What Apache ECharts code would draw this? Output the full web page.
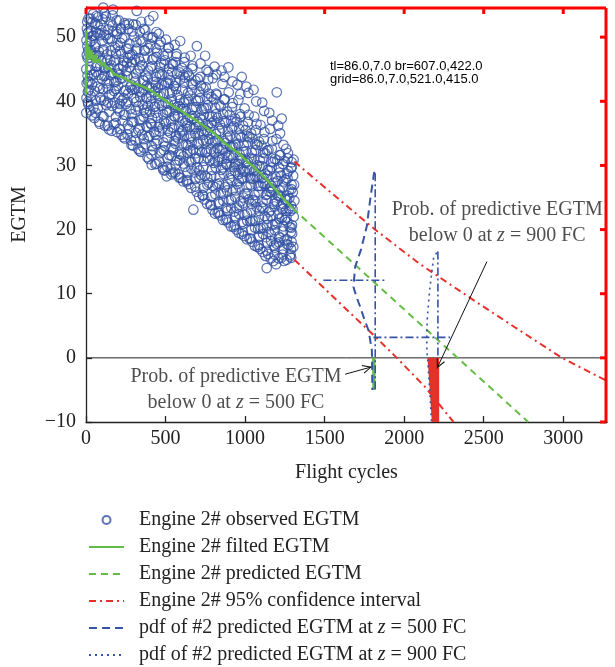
<!DOCTYPE html>
<html><head><meta charset="utf-8">
<script src="https://cdn.jsdelivr.net/npm/echarts@6/dist/echarts.min.js"></script>
<style>html,body{margin:0;padding:0;background:#fff;overflow:hidden}#c{width:615px;height:667px}</style>
</head><body><div id="c"></div>
<script>
const xTicks = [0,500,1000,1500,2000,2500,3000];
const yTicks = [-10,0,10,20,30,40,50];
const legendNames = ['Engine 2# observed EGTM','Engine 2# filted EGTM','Engine 2# predicted EGTM','Engine 2# 95% confidence interval','pdf of #2 predicted EGTM at z = 500 FC','pdf of #2 predicted EGTM at z = 900 FC'];
const observedA = [
[2,38.2],[3,40.5],[4,42.8],[2,45],[5,47.2],[3,49.5],[6,51.3],[8,52.4],[10,44],[12,41.5],[9,48.6],[15,50.8],[14,39.6],
[22,43],[25,46.8],[28,52.9],[24,49.2],[30,40.8],[27,38.6],[32,51],[26,44.9],[31,47.9],
[45,53.6],[48,50.2],[52,47.1],[50,44.2],[55,41.6],[47,39],[53,37.4],[58,52.1],[56,48.5],
[70,45.4],[72,42.3],[78,50.6],[76,53.1],[80,47.8],[74,38.9],[82,36.8],[79,44.1],[73,51.9],
[95,40.2],[98,46.3],[102,49.4],[105,52.8],[108,54.6],[100,43.5],[104,37.7],[110,48.1],[97,51.1],[107,41.9],
[120,36.2],[122,45.1],[127,50.3],[125,53.2],[130,42.8],[128,39.4],[133,47.3],[121,44],
[145,35.6],[148,41],[152,46.4],[150,49.8],[155,52.4],[158,44.1],[147,38.4],[156,47.9],
[170,54.3],[172,50.9],[175,46.2],[178,43],[180,39.8],[174,36.4],[182,48.4],[177,41.6],
[195,35.2],[198,38.9],[202,42.4],[205,45.1],[200,48.7],[207,52.6],[196,50.5],[204,40.6],[199,44.3],
[220,51.2],[222,47.4],[227,43.6],[225,40.1],[230,37],[223,34.8],[232,45.6],[228,49.8],
[245,34.2],[248,37.9],[250,41.8],[253,44.7],[255,48.2],[247,51.9],[258,46],[252,39.6],
[270,52.1],[273,49],[275,45.3],[278,42.2],[280,38.8],[272,35.7],[283,33.9],[277,47.2],
[295,33.1],[298,36.8],[302,40.5],[300,43.7],[305,46.5],[303,50.1],[297,52],[308,41.9],
[319,54.1],[322,48.2],[325,44.8],[327,39.2],[330,35.5],[324,42.1],[332,46.7],[328,32.6],
[345,32.1],[348,37.2],[350,41.4],[353,45.6],[355,49.3],[347,52.4],[358,43.3],[352,34.8],[356,39.5],
[370,47.9],[372,51.1],[375,44],[378,40.6],[380,36.1],[373,33.3],[382,42.4],[377,38.2],
[395,31],[398,34.6],[402,38.4],[400,42.1],[405,45.3],[403,48.9],[397,52.6],[408,40],[406,36.6],
[423,53.3],[420,50],[425,46.7],[427,43],[430,39.1],[413,30.1],[428,35.2],[432,41.5],[422,32.4],
[445,30.3],[448,33.9],[450,37.4],[453,40.8],[455,44.4],[447,47.6],[458,50.5],[452,42.1],[456,36],
[470,49.3],[472,46],[475,42.6],[478,39.3],[480,35.8],[473,32.2],[482,29.7],[477,44.2],
[495,29.2],[498,33],[502,36.5],[500,39.8],[505,42.9],[507,28.3],[497,46.4],[503,49.6],[508,38.2],
[520,48.4],[522,45.1],[527,41.3],[525,38.4],[530,35.1],[523,31.6],[532,29.5],[528,43.3],
[545,28.9],[548,32.5],[550,35.9],[553,39.4],[555,42.4],[547,45.8],[558,48.8],[552,37.7],[556,33.8],
[570,47.4],[572,44.3],[575,41],[578,37.6],[580,34.2],[573,30.8],[582,28.6],[577,39.2],
[592,49.4],[595,28.1],[598,31.7],[602,35.3],[600,38.8],[605,41.8],[603,45.2],[608,36.9],[606,33.4],
[620,46.8],[622,43.7],[627,40.2],[625,36.6],[630,33.2],[623,29.8],[632,27.5],[628,38.5],
[645,27.1],[648,30.6],[650,34.2],[653,37.5],[655,40.9],[647,44],[658,47.1],[652,36],[656,32.3],
[675,23.1],[670,45.5],[672,42.6],[677,39.1],[680,35.7],[673,32.5],[682,28.9],[678,37.3],
[697,48.6],[695,25.9],[698,29.7],[702,33.4],[700,36.8],[705,40.1],[703,43.5],[708,35],[706,31.1],
[720,45.9],[722,42.4],[727,38.7],[725,35.4],[730,32.1],[723,28.5],[732,25.4],[728,37.1],
[749,47.1],[745,24.7],[748,28.4],[752,32],[750,35.5],[755,38.9],[753,42.2],[758,44.9],[756,33.8],
[770,44.6],[772,41.2],[777,37.6],[775,34.1],[780,30.8],[773,27.3],[782,23.9],[778,35.9],
[795,23.1],[798,26.8],[802,30.4],[800,33.7],[805,36.9],[803,40.3],[797,43.6],[808,45.4],[806,32],
[820,44.2],[822,41],[827,37.4],[825,34],[830,30.6],[823,27.1],[832,24.3],[828,22.6],[826,32.7],
[845,22.2],[848,25.7],[850,29.3],[853,32.5],[855,35.8],[847,39.2],[858,42.7],[852,44.8],[856,31],
[870,43.8],[872,40.3],[877,36.7],[875,33.5],[880,30.2],[873,26.6],[882,23.4],[878,21.5],[876,31.9],
[895,45.3],[895,21.1],[898,24.5],[902,28],[900,31.4],[905,34.6],[903,37.9],[897,41.4],[908,29.8],[906,32.9],
[920,43.1],[922,39.7],[927,36.1],[925,33],[930,29.7],[923,26.2],[932,22.8],[928,20.4],[926,31.2],
[945,20],[948,23.4],[950,27.1],[953,30.2],[955,33.4],[947,36.8],[958,40.2],[952,42.6],[956,28.6],
[979,43.8],[970,41.1],[972,37.6],[977,34.4],[975,31.1],[980,27.9],[973,24.4],[982,21.2],[978,19.3],[976,29.5],
[995,19],[998,22.3],[1002,25.6],[1000,29],[1005,32.2],[1003,35.5],[997,38.9],[1008,42.3],[1006,30.4],
[1020,41.3],[1022,37.9],[1027,34.4],[1025,31.2],[1030,28.1],[1023,24.7],[1032,21.3],[1028,18.6],[1026,29.3],
[1045,18.1],[1048,21.4],[1050,24.6],[1052,27.9],[1055,31],[1047,34.2],[1058,37.6],[1053,41.8],[1056,29.1],
[1070,40],[1072,36.5],[1077,33.2],[1075,30],[1080,26.8],[1073,23.5],[1082,20.1],[1078,17.3],[1076,28.3],
[1095,17],[1098,20.2],[1102,23.6],[1100,26.8],[1105,29.9],[1103,33.1],[1097,36.3],[1108,39.8],[1106,28],
[1120,38.5],[1122,35.2],[1127,31.9],[1125,28.7],[1130,25.4],[1123,22.1],[1132,18.8],[1128,15.9],[1126,27.1],
[1136,14],[1145,16.2],[1148,19.6],[1150,22.7],[1153,25.9],[1155,29.2],[1147,32.4],[1158,35.7],[1152,38.2],[1156,26.5],
[1170,37],[1172,33.8],[1177,30.5],[1175,27.3],[1180,24],[1173,20.8],[1182,17.5],[1178,15.1],[1176,26.2],
[1199,41.4],[1195,14.6],[1198,17.8],[1202,21],[1200,24.3],[1205,27.6],[1203,30.8],[1197,34.1],[1208,36.2],[1206,25.3],
[1230,37.3],[1220,35],[1222,31.6],[1227,28.4],[1225,25.1],[1232,21.9],[1223,18.7],[1228,15.6],[1226,23.6],
[1241,33.2],[1245,15.1],[1248,18.3],[1250,21.5],[1252,24.7],[1255,27.8],[1247,30.7],[1258,32.6],[1256,22.9],
[1270,31.9],[1272,29.1],[1277,26.2],[1275,23.3],[1280,20.4],[1273,17.6],[1282,15.8],[1278,24.9],
[1290,15.6],[1292,18.1],[1295,20.7],[1298,23.2],[1300,25.8],[1302,28.4],[1305,30.9],[1308,27],[1306,22],[1303,17.3],[1296,19.4],[1310,24.5],[1294,29.7]
];
const observedB = [
[12,39.9],[13,43.1],[11,46.7],[14,47.9],[12,50.6],[16,52.9],[18,41.8],
[36,37.8],[38,42.6],[37,44.1],[40,47.3],[35,49.4],[39,50.2],[41,52.4],
[61,38.2],[63,40.1],[62,44.6],[65,45.5],[60,48.9],[64,50.8],[66,53.3],[67,47.2],
[86,36.5],[88,40.6],[87,42],[90,45.5],[85,47.1],[89,50.3],[91,52],
[111,37.6],[113,40.1],[112,43.9],[115,45.2],[110,47.8],[114,50.4],[116,53.7],
[136,36.2],[138,39.8],[137,42],[140,45.3],[135,46.4],[139,49.7],[141,51.2],[142,43.2],
[161,35.4],[163,39.3],[162,41.1],[165,44.4],[160,45.6],[164,49.4],[166,51.8],[167,53.4],
[186,36.6],[188,37.6],[187,41.9],[190,43.1],[185,46.4],[189,47.4],[191,50.9],[192,52.6],
[211,35.7],[213,38.4],[212,39.6],[215,43.5],[210,44.1],[214,47.9],[216,49.1],[217,51.4],
[236,34.4],[238,37.9],[237,40.5],[240,41.6],[235,45.4],[239,46.3],[241,49.9],[242,52.2],
[261,34.8],[263,36.3],[262,39.9],[265,41.2],[260,43.9],[264,46.8],[266,48.2],[267,51.3],
[286,33.2],[288,36.8],[287,38],[290,41.8],[285,42.6],[289,46.1],[291,47.3],[292,50.9],
[311,33.9],[313,35.1],[312,38.7],[315,39.9],[310,43.1],[314,44.3],[316,47.9],[317,49.2],[313,51.9],
[336,32.3],[338,35.8],[337,37.1],[340,40.7],[335,41.5],[339,45.1],[341,46.2],[342,49.6],[338,50.8],
[361,32.8],[363,34.1],[362,37.6],[365,38.7],[360,41.8],[364,43.2],[366,46.8],[367,48],[363,51.3],
[386,31.3],[388,34.4],[387,35.9],[390,39.3],[385,40.4],[389,43.7],[391,44.8],[392,48.3],[388,50.1],
[411,31.7],[413,33],[412,36.4],[415,37.4],[410,40.9],[414,42.1],[416,45.5],[417,46.5],[413,49.9],
[436,30.2],[438,33.4],[437,34.8],[440,38.2],[435,39.2],[439,42.6],[441,43.8],[442,46.9],[438,48.3],[443,50.8],
[461,30.6],[463,31.9],[462,35.3],[465,36.4],[460,39.7],[464,40.9],[466,44.2],[467,45.3],[463,48.8],
[486,29.3],[488,32.4],[487,33.6],[490,36.9],[485,38],[489,41.3],[491,42.5],[492,45.8],[488,47.1],
[511,29.8],[513,31.1],[512,34.3],[515,35.4],[510,38.6],[514,39.7],[516,42.9],[517,44.1],[513,47.4],[518,48.3],
[536,28.6],[538,31.5],[537,32.7],[540,35.9],[535,37],[539,40.3],[541,41.4],[542,44.6],[538,45.8],
[561,28.9],[563,30.1],[562,33.4],[565,34.5],[560,37.6],[564,38.6],[566,41.9],[567,42.9],[563,46.1],[568,47],
[586,28.1],[588,30.8],[587,31.8],[590,35],[585,36],[589,39.2],[591,40.2],[592,43.4],[588,44.5],
[611,27.5],[613,30.3],[612,31.4],[615,34.6],[610,35.6],[614,38.8],[616,39.8],[617,42.9],[613,44.1],[618,46.1],
[636,27.7],[638,28.9],[637,32],[640,33.1],[635,36.2],[639,37.1],[641,40.3],[642,41.3],[638,44.5],
[661,26.5],[663,29.5],[662,30.5],[665,33.6],[660,34.6],[664,37.7],[666,38.7],[667,41.8],[663,42.8],[668,45.1],
[686,26.7],[688,27.9],[687,31],[690,31.9],[685,35],[689,36],[691,39.1],[692,40.1],[688,43.2],
[711,25.1],[713,28.1],[712,29.2],[715,32.3],[710,33.3],[714,36.4],[716,37.4],[717,40.5],[713,41.5],[718,43.8],
[736,25.3],[738,26.5],[737,29.7],[740,30.7],[735,33.9],[739,34.8],[741,37.9],[742,38.9],[738,42],
[761,24],[763,27],[762,28.1],[765,31.2],[760,32.2],[764,35.3],[766,36.3],[767,39.4],[763,40.4],[768,43.4],
[786,23.8],[788,25.1],[787,28.3],[790,29.3],[785,32.5],[789,33.5],[791,36.6],[792,37.6],[788,40.7],
[811,22.5],[813,25.5],[812,26.6],[815,29.7],[810,30.8],[814,33.8],[816,34.9],[817,38],[813,39],[818,41.2],
[836,22.7],[838,24],[837,27.2],[840,28.2],[835,31.3],[839,32.3],[841,35.4],[842,36.4],[838,39.5],
[861,21.5],[863,24.5],[862,25.6],[865,28.7],[860,29.7],[864,32.8],[866,33.8],[867,36.9],[863,38],[868,40.3],
[886,21.7],[888,22.9],[887,26.1],[890,27.1],[885,30.2],[889,31.2],[891,34.3],[892,35.3],[888,38.4],
[911,20.5],[913,23.4],[912,24.6],[915,27.7],[910,28.7],[914,31.7],[916,32.8],[917,35.8],[913,36.9],[918,39.1],
[936,20.7],[938,21.9],[937,25.1],[940,26.1],[935,29.2],[939,30.2],[941,33.2],[942,34.2],[938,37.3],
[961,19.5],[963,22.4],[962,23.6],[965,26.6],[960,27.6],[964,30.7],[966,31.7],[967,34.7],[963,35.7],[968,38],
[986,19.7],[988,20.9],[987,24.1],[990,25],[985,28.1],[989,29.1],[991,32.1],[992,33.1],[988,36.2],
[1011,18.5],[1013,21.4],[1012,22.5],[1015,25.6],[1010,26.6],[1014,29.6],[1016,30.6],[1017,33.6],[1013,34.6],[1018,36.8],
[1036,18.6],[1038,19.9],[1037,23],[1040,24],[1035,27],[1039,28],[1041,31],[1042,32],[1038,35],
[1061,17.5],[1063,20.3],[1062,21.4],[1065,24.4],[1060,25.4],[1064,28.3],[1066,29.4],[1067,32.4],[1063,33.4],[1068,35.5],
[1086,17.6],[1088,18.9],[1087,21.9],[1090,22.9],[1085,25.9],[1089,26.8],[1091,29.8],[1092,30.8],[1088,33.7],
[1111,16.5],[1113,19.3],[1112,20.3],[1115,23.3],[1110,24.3],[1114,27.2],[1116,28.1],[1117,31.1],[1113,32],[1118,34.1],
[1136,16.7],[1138,17.9],[1137,20.7],[1140,21.7],[1135,24.6],[1139,25.5],[1141,28.4],[1142,29.3],[1138,32.3],
[1161,15.5],[1163,18.2],[1162,19.2],[1165,22.1],[1160,23],[1164,25.9],[1166,26.8],[1167,29.7],[1163,30.6],[1168,32.6],
[1186,16.1],[1188,17.2],[1187,19.9],[1190,20.8],[1185,23.6],[1189,24.5],[1191,27.3],[1192,28.2],[1188,31],
[1211,15.5],[1213,18],[1212,18.9],[1215,21.7],[1210,22.5],[1214,25.3],[1216,26.1],[1217,28.9],[1213,29.7],[1218,31.6],
[1236,16.1],[1238,17],[1237,19.7],[1240,20.5],[1235,23.2],[1239,24],[1241,26.7],[1242,27.5],[1238,30.2],
[1261,15.3],[1263,17.7],[1262,18.5],[1265,21.2],[1260,21.9],[1264,24.6],[1266,25.3],[1267,28],[1263,28.7],[1268,31.1],
[1286,16.1],[1288,17],[1287,19.6],[1290,20.3],[1285,22.9],[1289,23.7],[1291,26.3],[1292,27],[1288,29.6],[1293,30.5]
];
const filtered = [[0,41],[2,51],[5,45],[8,49],[12,47],[18,48.5],[25,46.5],[32,48],[40,47],[50,46],[60,47.3],[70,46],[85,46.5],[100,45.5],[115,46],[130,45],[150,45.2],[170,44.3],[200,44],[233,43.7],[270,43.2],[300,42.8],[340,42.5],[382,42],[420,41.5],[445,41],[500,40.1],[549,39.2],[600,38.5],[640,37.8],[675,37.3],[720,36.5],[760,35.8],[801,35.1],[864,33.6],[920,32.6],[969,31.7],[1010,30.7],[1052,29.8],[1095,28.8],[1136,27.8],[1180,26.6],[1220,25.4],[1260,24.3],[1300,23.3]];
const predicted = [[1300,23.3],[2780,-10]];
const ciUpper = [[1310,30.6],[1500,26.6],[1817,20],[2100,14.6],[2436,9],[2700,4.7],[2992,0],[3275,-3.6]];
const ciLower = [[1310,15.3],[1550,9.6],[1797,3.8],[1954,0],[2130,-4.5],[2310,-10]];
const pdf500Curve = [[1812,29],[1800,27],[1786,24.6],[1765,20.5],[1730,17],[1692,14.2],[1681,11.1],[1700,9.5],[1723,8],[1750,6],[1776,4.3],[1797,1.2],[1798,0],[1800,-5]];
const pdf500Base = [[1818,28.8],[1818,-5]];
const pdf500Mean = [[1492,12.1],[1891,12.1]];
const pdf500Tail = [[1798,0],[1820,0],[1820,-5],[1800,-5]];
const pdf900Curve = [[2205,16.4],[2185,15.6],[2174,13.4],[2160,10.5],[2153,8.5],[2145,6],[2142,3.5],[2143,1],[2147,0],[2155,-3],[2163,-6],[2172,-10]];
const pdf900Base = [[2212,16.6],[2212,0]];
const pdf900Mean = [[1807,3.2],[2289,3.2]];
const pdf900Tail = [[2147,0],[2220,0],[2220,-10],[2174,-10],[2163,-6],[2155,-3]];
const notes = [
  {pos:[943,-4.97], text:'Prob. of predictive EGTM\nbelow 0 at {i|z} = 500 FC'},
  {pos:[2585,21.05], text:'Prob. of predictive EGTM\nbelow 0 at {i|z} = 900 FC'}
];
const arrows = [[[1629,-2.55],[1797,-1.4]],[[2520,15],[2206,-1.65]]];
const X_MAX = 3275, Y_MAX = 54.7;

const FONT = 'Liberation Serif';
const BLUE = '#3150a2', GREEN = '#64bc46', RED = '#e8302a', BLUE2 = '#3553a8', AX = '#222222';
const chart = echarts.init(document.getElementById('c'));
let dbg = '';
function poly(name, pts, fill){
  return {type:'custom', name, silent:true, z:4, data:[pts[0]],
    renderItem:(p, api)=>({type:'polygon', shape:{points:pts.map(q=>api.coord(q))}, style:{fill:fill, stroke:'none'}})};
}
function ln(name, data, color, width, type, z){
  return {type:'line', name, data, symbol:'none', z:z||3, silent:true,
    lineStyle:{color, width, type}, itemStyle:{color}};
}
function frameItem(p, api){
  const tl = api.coord([xTicks[0], Y_MAX]), br = api.coord([X_MAX, yTicks[0]]);
  dbg = 'tl=' + tl.map(v=>v.toFixed(1)) + ' br=' + br.map(v=>v.toFixed(1));
  const top = tl[1] + 1, right = br[0] - 1;
  const st = {stroke:'#ff0000', lineWidth:3, fill:'none'};
  const kids = [
    {type:'line', shape:{x1:tl[0], y1:top, x2:right, y2:top}, style:st},
    {type:'line', shape:{x1:right, y1:top, x2:right, y2:br[1]}, style:st}
  ];
  xTicks.forEach(v=>{ const c = api.coord([v, Y_MAX]); kids.push({type:'line', shape:{x1:c[0], y1:top, x2:c[0], y2:top+6}, style:st}); });
  yTicks.forEach(v=>{ const c = api.coord([X_MAX, v]); kids.push({type:'line', shape:{x1:right, y1:c[1], x2:right-6, y2:c[1]}, style:st}); });
  return {type:'group', children:kids};
}
const richI = {i:{fontStyle:'italic', fontFamily:FONT, fontSize:20, color:'#222'}};
const fmt = v => String(v).replace('-', '\u2212');
const arrowPath = 'path://M5,-10.6 M5,0 L10,10 L8.9,10.6 L5,2.4 L1.1,10.6 L0,10 Z';
const axLine = {show:true, onZero:false, lineStyle:{color:AX, width:1.3}};
const axTick = {show:true, inside:true, length:6, lineStyle:{color:AX, width:1.3}};

chart.setOption({
  animation:false,
  grid:{left:86, right:8, top:7, bottom:245},
  xAxis:{type:'value', min:xTicks[0], max:X_MAX, interval:500, position:'bottom',
      axisLine:axLine, axisTick:axTick, splitLine:{show:false},
      axisLabel:{fontFamily:FONT, fontSize:20, color:'#222', margin:7, showMaxLabel:false, formatter:v=>xTicks.includes(v)?fmt(v):''},
      name:'Flight cycles', nameLocation:'middle', nameGap:41, nameTextStyle:{fontFamily:FONT, fontSize:20, color:'#222'}},
  yAxis:{type:'value', min:yTicks[0], max:Y_MAX, interval:10, position:'left',
      axisLine:axLine, axisTick:axTick, splitLine:{show:false},
      axisLabel:{fontFamily:FONT, fontSize:20, color:'#222', margin:10, showMaxLabel:false, formatter:v=>yTicks.includes(v)?fmt(v):''},
      name:'EGTM', nameLocation:'middle', nameGap:56, nameRotate:90, nameTextStyle:{fontFamily:FONT, fontSize:20, color:'#222'}},
  legend:{orient:'vertical', left:88, top:510, padding:0, itemWidth:35, itemHeight:8, itemGap:7,
    data:legendNames.map((n,i)=> i===0 ? {name:n} : {name:n, itemStyle:{opacity:0}}), selectedMode:false,
    formatter:n=>n.replace('z =', '{i|z} ='),
    textStyle:{fontFamily:FONT, fontSize:20, color:'#222', lineHeight:20, padding:[0,0,0,10], rich:richI}},
  series:[
    {type:'scatter', name:legendNames[0], data:observedA.concat(observedB), symbol:'circle', symbolSize:9.5, z:2, silent:true,
      itemStyle:{color:'rgba(0,0,0,0)', borderColor:BLUE, borderWidth:1.2}},
    ln('zero', [[xTicks[0],0],[X_MAX,0]], '#222', 1, 'solid', 3),
    ln(legendNames[1], filtered, GREEN, 2.5, 'solid', 5),
    ln(legendNames[2], predicted, GREEN, 2, [7,5], 3),
    ln(legendNames[3], ciUpper, RED, 2, [7,4,2,4], 3),
    ln(legendNames[3], ciLower, RED, 2, [7,4,2,4], 3),
    poly('tail500', pdf500Tail, GREEN),
    poly('tail900', pdf900Tail, RED),
    ln(legendNames[4], pdf500Curve, BLUE2, 2, [8,5], 6),
    ln('base500', pdf500Base, BLUE2, 1.6, [8,3,2,3], 6),
    ln('mean500', pdf500Mean, BLUE2, 1.6, [8,3,2,3], 6),
    ln(legendNames[5], pdf900Curve, BLUE2, 1.6, [2,4], 6),
    ln('base900', pdf900Base, BLUE2, 1.6, [8,3,2,3], 6),
    ln('mean900', pdf900Mean, BLUE2, 1.6, [8,3,2,3], 6),
    {type:'custom', name:'frame', z:20, clip:false, data:[[xTicks[0], yTicks[0]]], renderItem:frameItem},
    {type:'scatter', name:'notes', silent:true, z:10, symbolSize:0,
      data:notes.map(n=>({value:n.pos, label:{formatter:n.text}})),
      label:{show:true, position:'inside', fontFamily:FONT, fontSize:20, lineHeight:26, color:'#222', align:'center', rich:richI},
      markLine:{silent:true, symbol:['none', arrowPath], symbolSize:[9,19], label:{show:false},
        lineStyle:{color:'#111', width:1, type:'solid'},
        data:arrows.map(a=>[{coord:a[0]},{coord:a[1]}])}}
  ]
});
const gr = chart.getModel().getComponent('grid', 0).coordinateSystem.getRect();
chart.setOption({graphic:[{type:'text', left:330, top:60, z:100, style:{text:dbg + '\ngrid=' + [gr.x,gr.y,gr.width,gr.height].map(v=>v.toFixed(1)).join(','), fontSize:13, fill:'#000'}}]});
</script></body></html>
